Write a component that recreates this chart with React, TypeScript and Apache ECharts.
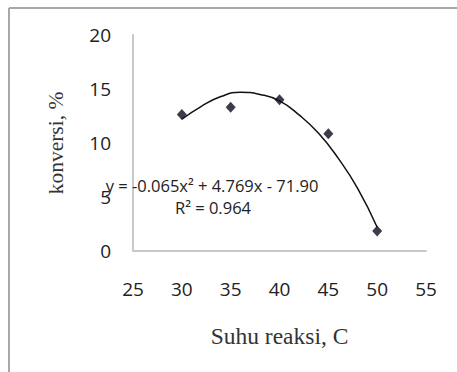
import React, { useEffect, useRef } from "react";
import * as echarts from "echarts";

const temperatures = [30, 35, 40, 45, 50];
const conversions = [12.65, 13.3, 14.0, 10.85, 1.85];

const trendX = [30, 32, 34, 36, 38, 40, 42, 44, 46, 48, 50];
const trendY = [12.2, 13.4, 14.3, 14.7, 14.5, 13.9, 12.6, 10.9, 8.6, 5.8, 2.2];

const equationText = "y = -0.065x\u00B2 + 4.769x - 71.90";
const r2Text = "R\u00B2 = 0.964";

const xTitle = "Suhu reaksi, C";
const yTitle = "konversi, %";

export default function App() {
  const ref = useRef<HTMLDivElement>(null);
  useEffect(() => {
    if (!ref.current) return;
    const chart = echarts.init(ref.current, null, { renderer: "svg" });
    const tickFont = { fontFamily: "Open Sans", fontSize: 19, color: "#222" };
    chart.setOption({
      animation: false,
      backgroundColor: "#fff",
      grid: { left: 133, top: 35, right: 31, bottom: 121 },
      xAxis: {
        type: "value",
        min: 25,
        max: 55,
        interval: 5,
        axisLine: { show: true, lineStyle: { color: "#c8c8c8", width: 2 } },
        axisTick: { show: false },
        splitLine: { show: false },
        axisLabel: { ...tickFont, margin: 28 },
        name: xTitle,
        nameLocation: "middle",
        nameGap: 73,
        nameTextStyle: { fontFamily: "Liberation Serif", fontSize: 23.5, color: "#333" },
      },
      yAxis: {
        type: "value",
        min: 0,
        max: 20,
        interval: 5,
        axisLine: { show: true, lineStyle: { color: "#c8c8c8", width: 2 } },
        axisTick: { show: false },
        splitLine: { show: false },
        axisLabel: { ...tickFont, margin: 22 },
        name: yTitle,
        nameLocation: "middle",
        nameGap: 66,
        nameTextStyle: { fontFamily: "Liberation Serif", fontSize: 21.5, color: "#333" },
      },
      series: [
        {
          type: "line",
          data: trendX.map((x, i) => [x, trendY[i]]),
          smooth: true,
          showSymbol: false,
          lineStyle: { color: "#111", width: 1.5 },
          z: 2,
        },
        {
          type: "scatter",
          data: temperatures.map((x, i) => [x, conversions[i]]),
          symbol: "diamond",
          symbolSize: [10, 11],
          itemStyle: { color: "#0b0b1e" },
          z: 3,
        },
      ],
      graphic: [
        {
          type: "line",
          shape: { x1: 9, y1: 8, x2: 457, y2: 8 },
          style: { stroke: "#a8a8a8", lineWidth: 2 },
        },
        {
          type: "line",
          shape: { x1: 9, y1: 8, x2: 9, y2: 372 },
          style: { stroke: "#a8a8a8", lineWidth: 2 },
        },
        {
          type: "text",
          x: 212,
          y: 185,
          z: 10,
          style: {
            text: equationText,
            fontFamily: "Open Sans",
            fontSize: 16.5,
            fill: "#222",
            align: "center",
            verticalAlign: "middle",
          },
        },
        {
          type: "text",
          x: 213,
          y: 207,
          z: 10,
          style: {
            text: r2Text,
            fontFamily: "Open Sans",
            fontSize: 16.5,
            fill: "#222",
            align: "center",
            verticalAlign: "middle",
          },
        },
      ],
    });
    return () => chart.dispose();
  }, []);
  return (
    <div
      ref={ref}
      style={{ position: "absolute", left: 0, top: 0, width: 457, height: 372 }}
    />
  );
}
